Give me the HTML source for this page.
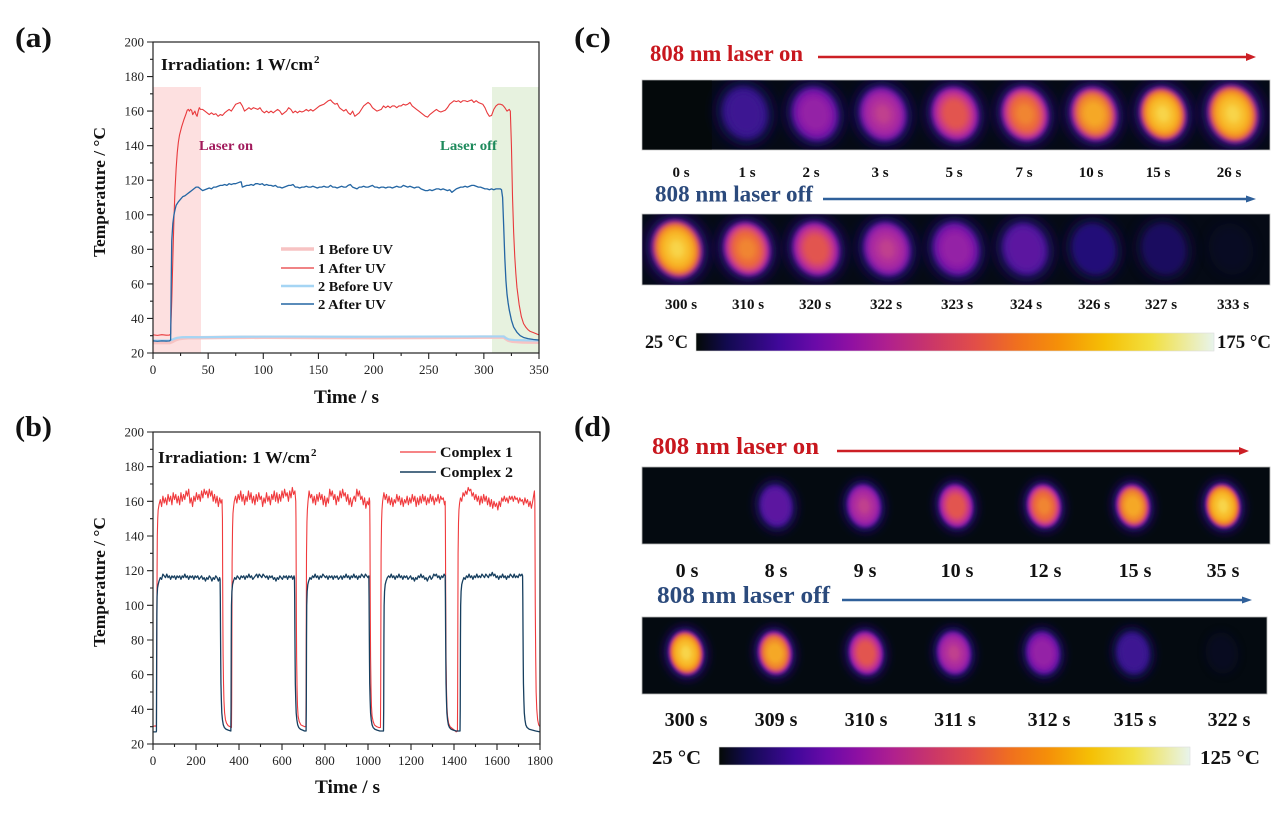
<!DOCTYPE html>
<html><head><meta charset="utf-8"><style>
html,body{margin:0;padding:0;background:#fff;}
svg{display:block;font-family:"Liberation Serif","Times New Roman",serif;}
</style></head><body>
<svg width="1285" height="832" viewBox="0 0 1285 832" xmlns="http://www.w3.org/2000/svg">
<defs>
<filter id="fh" x="-60%" y="-60%" width="220%" height="220%"><feGaussianBlur stdDeviation="6"/></filter>
<filter id="fb" x="-50%" y="-50%" width="200%" height="200%"><feGaussianBlur stdDeviation="2.6"/></filter>
<linearGradient id="cb" x1="0" y1="0" x2="1" y2="0">
<stop offset="0" stop-color="#040a06"/><stop offset="0.06" stop-color="#120a50"/><stop offset="0.16" stop-color="#40089a"/><stop offset="0.23" stop-color="#6a0aa8"/><stop offset="0.30" stop-color="#9010a2"/><stop offset="0.37" stop-color="#b0208e"/><stop offset="0.46" stop-color="#cc3866"/><stop offset="0.54" stop-color="#e24e48"/><stop offset="0.62" stop-color="#f0701e"/><stop offset="0.70" stop-color="#f59008"/><stop offset="0.79" stop-color="#f5c005"/><stop offset="0.88" stop-color="#f2e040"/><stop offset="1" stop-color="#e8f4ec"/>
</linearGradient>
<clipPath id="cs1"><rect x="642" y="80" width="628" height="70"/></clipPath>
<clipPath id="cs2"><rect x="642" y="214" width="628" height="71"/></clipPath>
<clipPath id="ds1"><rect x="642" y="467" width="628" height="77"/></clipPath>
<clipPath id="ds2"><rect x="642" y="617" width="625" height="77"/></clipPath>
<g id="kZ"><ellipse rx="22" ry="26" fill="#0c0a34" opacity="0.45" filter="url(#fh)"/></g>
<g id="kA"><ellipse rx="28" ry="32" fill="#140a4c" filter="url(#fh)"/><ellipse rx="21" ry="25" fill="#241078" filter="url(#fb)"/></g>
<g id="kB"><ellipse rx="29" ry="33" fill="#160b52" filter="url(#fh)"/><ellipse rx="22" ry="26" fill="#34138a" filter="url(#fb)"/><ellipse rx="16" ry="20" fill="#3e1792" filter="url(#fb)"/></g>
<g id="kC"><ellipse rx="29" ry="33" fill="#1a0c5c" filter="url(#fh)"/><ellipse rx="22" ry="26" fill="#4a1298" filter="url(#fb)"/><ellipse rx="17" ry="21" fill="#5c14a0" filter="url(#fb)"/></g>
<g id="kD"><ellipse rx="29" ry="33" fill="#1c0c60" filter="url(#fh)"/><ellipse rx="23" ry="27" fill="#5a129e" filter="url(#fb)"/><ellipse rx="19" ry="23" fill="#8418a8" filter="url(#fb)"/><ellipse rx="14" ry="17" fill="#9420a6" filter="url(#fb)"/></g>
<g id="kE"><ellipse rx="29" ry="33" fill="#1e0d66" filter="url(#fh)"/><ellipse rx="23" ry="27" fill="#6414a2" filter="url(#fb)"/><ellipse rx="20" ry="24" fill="#9c22a6" filter="url(#fb)"/><ellipse rx="15" ry="18" fill="#b02f9c" filter="url(#fb)"/><ellipse rx="8" ry="10" fill="#c0408e" filter="url(#fb)"/></g>
<g id="kF"><ellipse rx="29" ry="33" fill="#200e6a" filter="url(#fh)"/><ellipse rx="23" ry="27" fill="#6a14a2" filter="url(#fb)"/><ellipse rx="21" ry="25" fill="#a424a4" filter="url(#fb)"/><ellipse rx="18" ry="22" fill="#cc3a84" filter="url(#fb)"/><ellipse rx="13" ry="16" fill="#e25450" filter="url(#fb)"/></g>
<g id="kG"><ellipse rx="29" ry="33" fill="#200e6a" filter="url(#fh)"/><ellipse rx="23" ry="27" fill="#6a14a2" filter="url(#fb)"/><ellipse rx="21" ry="25" fill="#ae28a0" filter="url(#fb)"/><ellipse rx="19" ry="23" fill="#d84878" filter="url(#fb)"/><ellipse rx="15" ry="19" fill="#ec6a3a" filter="url(#fb)"/><ellipse rx="9" ry="11" fill="#f08530" filter="url(#fb)"/></g>
<g id="kH"><ellipse rx="29" ry="33" fill="#200e6a" filter="url(#fh)"/><ellipse rx="23" ry="27" fill="#6a14a2" filter="url(#fb)"/><ellipse rx="21" ry="25" fill="#b02a9c" filter="url(#fb)"/><ellipse rx="19" ry="23" fill="#e05a5a" filter="url(#fb)"/><ellipse rx="16" ry="20" fill="#f08a2a" filter="url(#fb)"/><ellipse rx="11" ry="13" fill="#f5a828" filter="url(#fb)"/></g>
<g id="kI"><ellipse rx="29" ry="33" fill="#200e6a" filter="url(#fh)"/><ellipse rx="23" ry="27" fill="#6a14a2" filter="url(#fb)"/><ellipse rx="21" ry="25" fill="#b42c98" filter="url(#fb)"/><ellipse rx="20" ry="24" fill="#e6604e" filter="url(#fb)"/><ellipse rx="18" ry="22" fill="#f59a1e" filter="url(#fb)"/><ellipse rx="14" ry="17" fill="#f8bc2c" filter="url(#fb)"/><ellipse rx="7" ry="9" fill="#f8d448" filter="url(#fb)"/></g>
</defs>

<!-- Panel labels -->
<g font-weight="bold" font-size="28" fill="#111">
<text x="15" y="47" textLength="37" lengthAdjust="spacingAndGlyphs">(a)</text>
<text x="15" y="436" textLength="37" lengthAdjust="spacingAndGlyphs">(b)</text>
<text x="574" y="47" textLength="37" lengthAdjust="spacingAndGlyphs">(c)</text>
<text x="574" y="436" textLength="37" lengthAdjust="spacingAndGlyphs">(d)</text>
</g>

<!-- ================= Panel (a) ================= -->
<rect x="153" y="87" width="48" height="266" fill="#fde0e0"/>
<rect x="492" y="87" width="47" height="266" fill="#e7f2df"/>
<g transform="translate(153,353) scale(1.10286,-1.72778) translate(0,-20)" fill="none" stroke-linejoin="round">
<polyline vector-effect="non-scaling-stroke" stroke="#f7c3c3" stroke-width="3.5" points="0,26 15,26 17,26.5 20,27.5 23,28.2 27,28.6 32,28.8 40,28.8 60,29 100,29.1 150,29 200,28.9 250,29 300,29.2 318,29.2 320,28.3 322,27.4 326,26.8 335,26.4 350,26.2"/>
<polyline vector-effect="non-scaling-stroke" stroke="#a5d5f4" stroke-width="2.2" points="0,27.2 15,27.2 17,27.6 19,28.2 22,28.8 26,29.1 32,29.2 45,29.1 80,29.4 120,29.5 180,29.4 240,29.5 300,29.6 318,29.6 320,28.6 323,27.8 328,27.5 340,27.3 350,27.2"/>
<polyline vector-effect="non-scaling-stroke" stroke="#e8393c" stroke-width="1.1" points="0,30.5 4,30.2 8,30.6 12,30.3 15,30.4 16,31 17,50 18,75 19,98 20,115 21,127 22,136 23,142 24,146 26,151 28,155 30,158.5 31,160.5 32,161 33,160 34,161 35,160.5 36,158 37,159 38,160 39,158 40,157 41,160 42,162 43,161 45,161 47,160 49,159 51,158 53,159 55,158 57,158.5 59,157 61,158 63,157.5 65,159 67,160 69,161 71,160 73,162 75,164 77,164.5 79,165 81,163 83,160 85,161 87,162 89,161 91,162 93,161.5 95,161 97,162 99,160 101,159 103,160 105,159 107,160 109,159 111,160 113,161 115,160 117,158 119,159 121,160 123,162 125,161 127,159 129,160 131,159 133,160 135,159.5 137,160 139,161 141,160 143,161 145,160 147,161 149,162 151,163 153,163.5 155,164 157,165 159,166 161,166.5 163,165 165,164 167,164.5 169,162 171,161 173,160 175,161 177,159 179,158 181,160 183,157 185,158 187,159 189,161 191,163 193,164 195,165 197,164 199,162 201,161 203,160 205,160.5 207,161 209,163 211,162 213,163 215,162 217,163 219,163 221,162 223,163 225,163 227,164 229,163.5 231,164 233,165 235,163 237,162 239,161 241,160 243,159 245,158 247,157 249,156.5 251,158 253,159 255,160 257,161 259,160 261,159.5 263,160 265,160.5 267,162 269,164 271,165 273,166 275,165.5 277,166 279,165 281,166 283,166 285,165.5 287,166 289,166.5 291,165 293,166 295,165 297,164.5 299,164 301,162 303,159 305,157 307,157.5 309,161 311,163 313,164 315,164 317,163.5 319,162 321,160 323,161 324,160 325,140 326,110 327,90 328,76 329,66 330,58 332,48 334,41 336,37 338,35 340,33.5 342,32.5 345,31.8 348,31 350,30.5"/>
<polyline vector-effect="non-scaling-stroke" stroke="#2466a3" stroke-width="1.3" points="0,27 4,26.8 8,27 12,26.9 15,27 16,27.5 16.5,60 17,85 18,95 19,100 20,103 21,105.5 23,107.5 25,109 27,110.5 29,111 31,112 33,113 35,114 37,115 39,116 41,116 43,115 45,114 47,114.5 49,115 51,115.5 53,115 55,116 57,116 59,116.5 61,117 63,117 65,117.5 67,117 69,118 71,117.5 73,118 75,118 77,118.5 79,119 80,119 81,116 83,116.5 85,117 87,117 89,117.5 91,117 93,118 95,118 97,117.5 99,118 101,117 103,117.5 105,117 107,117 109,116.5 111,117 113,116 115,116 117,115.5 119,116 121,116.5 123,117 125,117 127,117.5 129,116 131,116 133,115.5 135,116 137,116 139,116.5 141,116 143,116 145,116.5 147,116 149,115.5 151,116 153,116 155,116.5 157,116 159,116 161,117 163,116 165,116 167,115.5 169,116 171,116.5 173,116 175,116 177,117 179,117.5 181,116 183,115.5 185,115 187,116 189,116 191,116.5 193,116 195,116 197,116.5 199,117 201,116 203,116 205,115.5 207,116 209,116 211,115.5 213,116 215,116 217,115.5 219,116 221,116.5 223,116 225,116 227,117 229,116.5 231,116 233,116.5 235,116 237,115.5 239,116 241,116 243,115 245,114.5 247,114 249,114 251,114.5 253,114 255,114.5 257,115 259,115 261,114.5 263,115 265,114.5 267,114 269,114.5 271,113 273,114 275,115 277,115.5 279,116 281,116 283,116.5 285,116 287,116.5 289,117 291,117 293,116.5 295,116 297,116 299,115.5 301,115 303,115 305,114.5 307,115 309,114.5 311,115 313,115 315,115 316,114.5 317,110 318,93 319,75 320,62 321,54 322,49 323,45 325,39 327,35 330,32 333,30 336,29 340,28.3 345,27.8 350,27.5"/>
</g>
<rect x="153" y="42" width="386" height="311" fill="none" stroke="#222" stroke-width="1.2"/>
<path stroke="#222" stroke-width="1.1" fill="none" d="M147,353H153M147,318.44H153M147,283.89H153M147,249.33H153M147,214.78H153M147,180.22H153M147,145.67H153M147,111.11H153M147,76.56H153M147,42H153M150,335.72H153M150,301.17H153M150,266.61H153M150,232.06H153M150,197.5H153M150,162.94H153M150,128.39H153M150,93.83H153M150,59.28H153M153,353V359M208.14,353V359M263.29,353V359M318.43,353V359M373.57,353V359M428.71,353V359M483.86,353V359M539,353V359M180.57,353V356M235.71,353V356M290.86,353V356M346,353V356M401.14,353V356M456.29,353V356M511.43,353V356"/>
<g font-size="13" fill="#222" text-anchor="end">
<text x="144" y="357.5">20</text><text x="144" y="322.9">40</text><text x="144" y="288.4">60</text><text x="144" y="253.8">80</text><text x="144" y="219.3">100</text><text x="144" y="184.7">120</text><text x="144" y="150.2">140</text><text x="144" y="115.6">160</text><text x="144" y="81.1">180</text><text x="144" y="46.5">200</text>
</g>
<g font-size="13" fill="#222" text-anchor="middle">
<text x="153" y="374">0</text><text x="208.1" y="374">50</text><text x="263.3" y="374">100</text><text x="318.4" y="374">150</text><text x="373.6" y="374">200</text><text x="428.7" y="374">250</text><text x="483.9" y="374">300</text><text x="539" y="374">350</text>
</g>
<g font-weight="bold" fill="#111">
<text x="161" y="70" font-size="17" textLength="152" lengthAdjust="spacingAndGlyphs">Irradiation: 1 W/cm</text>
<text x="314" y="63" font-size="11">2</text>
<text x="199" y="150" font-size="14" fill="#a11a5c" textLength="54" lengthAdjust="spacingAndGlyphs">Laser on</text>
<text x="440" y="150" font-size="14" fill="#1e8a5c" textLength="57" lengthAdjust="spacingAndGlyphs">Laser off</text>
<text transform="translate(105,192) rotate(-90)" text-anchor="middle" font-size="17" textLength="130" lengthAdjust="spacingAndGlyphs">Temperature / °C</text>
<text x="314" y="403" font-size="19" textLength="65" lengthAdjust="spacingAndGlyphs">Time / s</text>
</g>
<g stroke-linecap="butt">
<line x1="281" y1="249" x2="314" y2="249" stroke="#f7c3c3" stroke-width="3.5"/>
<line x1="281" y1="268" x2="314" y2="268" stroke="#e8393c" stroke-width="1.2"/>
<line x1="281" y1="286" x2="314" y2="286" stroke="#a5d5f4" stroke-width="2.4"/>
<line x1="281" y1="304" x2="314" y2="304" stroke="#2466a3" stroke-width="1.5"/>
</g>
<g font-weight="bold" font-size="14" fill="#111">
<text x="318" y="254" textLength="75" lengthAdjust="spacingAndGlyphs">1 Before UV</text>
<text x="318" y="273" textLength="68" lengthAdjust="spacingAndGlyphs">1 After UV</text>
<text x="318" y="291" textLength="75" lengthAdjust="spacingAndGlyphs">2 Before UV</text>
<text x="318" y="309" textLength="68" lengthAdjust="spacingAndGlyphs">2 After UV</text>
</g>

<!-- ================= Panel (b) ================= -->
<g transform="translate(153,744) scale(0.215,-1.73333) translate(0,-20)" fill="none" stroke-linejoin="round">
<polyline vector-effect="non-scaling-stroke" stroke="#f03a3d" stroke-width="1.1" points="0,30 10,30.5 16,30 17,60 18,90 19,120 20,140 22,150 24,155 28,158 34,161 40,157 46,163 52,159 58,162 64,158 70,164 76,160 82,163 88,158 94,165 100,161 106,164 112,159 118,163 124,158 130,165 136,160 142,164 148,161 154,166 160,163 166,167 172,159 178,162 184,157 190,163 196,160 202,165 208,161 214,164 220,160 226,166 232,162 238,167 244,164 250,166 256,162 262,167 268,163 274,166 280,160 286,164 292,159 298,163 304,157 310,162 316,159 321,161 323,150 324,115 325,90 326,72 328,55 330,45 333,38 337,34 342,32 350,30.5 358,30 365,29.5 366,45 367,90 368,125 370,145 372,153 375,157 378,160 384,163 390,159 396,164 402,161 408,166 414,160 420,164 426,158 432,163 438,160 444,166 450,161 456,165 462,159 468,163 474,158 480,164 486,160 492,165 498,161 504,163 510,157 516,162 522,159 528,165 534,160 540,163 546,158 552,164 558,161 564,166 570,160 576,165 582,159 588,164 594,160 600,166 606,162 612,167 618,163 624,165 630,160 636,166 642,162 648,168 654,164 660,166 664,160 665,150 666,120 667,90 668,70 670,52 672,42 675,36 680,33 688,31 696,30.5 705,30 711,30 712,50 713,95 714,130 716,148 718,155 721,160 726,166 732,162 738,164 744,159 750,163 756,158 762,164 768,160 774,165 780,161 786,164 792,158 798,163 804,157 810,162 816,159 822,167 828,163 834,166 840,161 846,164 852,158 858,163 864,160 870,166 876,162 882,167 888,163 894,165 900,160 906,164 912,158 918,162 924,157 930,161 936,163 942,160 948,167 954,163 960,166 966,161 972,163 978,158 984,162 990,156 996,160 1002,158 1006,162 1008,160 1009,145 1010,115 1011,90 1012,70 1014,52 1016,42 1019,36 1024,33 1030,31 1040,30 1050,29.5 1058,29.5 1059,50 1060,95 1061,130 1063,148 1065,155 1068,160 1074,165 1080,161 1086,164 1092,159 1098,163 1104,158 1110,162 1116,157 1122,161 1128,159 1134,164 1140,160 1146,163 1152,158 1158,162 1164,157 1170,161 1176,159 1182,163 1188,158 1194,162 1200,159 1206,164 1212,160 1218,163 1224,157 1230,162 1236,158 1242,163 1248,159 1254,164 1260,160 1266,163 1272,158 1278,162 1284,159 1290,164 1296,160 1302,163 1308,158 1314,162 1320,160 1326,164 1332,159 1338,163 1344,161 1350,162 1356,158 1359,160 1360,145 1361,115 1362,90 1363,70 1365,52 1367,42 1370,36 1375,32 1382,30 1392,29 1402,28 1410,27 1416,27.5 1417,50 1418,95 1419,130 1421,148 1423,155 1426,159 1430,162 1436,160 1442,165 1448,163 1454,166 1460,164 1466,168 1472,166 1478,167 1484,163 1490,165 1496,161 1502,164 1508,160 1514,163 1520,158 1526,163 1532,159 1538,164 1544,160 1550,163 1556,158 1562,162 1568,157 1574,161 1580,156 1586,160 1592,157 1598,159 1604,155 1610,160 1616,157 1622,162 1628,160 1634,163 1640,160 1646,162 1652,159 1658,163 1664,161 1670,163 1676,160 1682,163 1688,161 1694,162 1700,159 1706,162 1712,160 1718,161 1724,158 1730,162 1736,159 1742,161 1748,157 1754,160 1760,156 1766,160 1770,163 1774,166 1776,160 1777,130 1778,100 1780,70 1782,50 1785,40 1789,34 1794,31 1800,30"/>
<polyline vector-effect="non-scaling-stroke" stroke="#173f5f" stroke-width="1.3" points="0,27 15,27 16,27.5 17,70 18,95 19,105 21,110 24,112 28,114 34,116 40,115 46,118 52,117 58,116 64,118 70,116 76,117 82,115 88,117 94,116 100,117 106,115 112,117 118,116 124,117 130,115 136,117 142,116 148,118 154,116 160,117 166,115 172,117 178,116 184,117 190,115 196,117 202,116 208,117 214,115 220,116 226,117 232,115 238,116 244,114 250,116 256,115 262,117 268,116 274,114 280,116 286,115 292,117 298,116 304,114 310,116 312,115 313,105 314,85 315,68 316,55 318,45 320,38 323,34 327,31 332,29.5 340,28.5 350,28 362,27.5 363,40 364,80 365,100 367,108 370,112 374,114 380,116 386,115 392,117 398,116 404,115 410,117 416,116 422,117 428,115 434,117 440,116 446,118 452,116 458,117 464,115 470,116 476,117 482,118 488,116 494,118 500,117 506,116 512,118 518,117 524,116 530,117 536,115 542,117 548,116 554,117 560,115 566,116 572,114 578,116 584,115 590,117 596,116 602,115 608,117 614,116 620,117 626,115 632,117 638,116 644,117 650,115 656,117 658,116 659,105 660,85 661,68 662,55 664,45 666,38 669,34 673,31 678,29.5 686,28.5 696,28 705,27.5 712,27.5 713,40 714,80 715,100 717,108 720,112 724,114 730,116 736,115 742,117 748,116 754,118 760,116 766,117 772,115 778,117 784,116 790,118 796,117 802,116 808,117 814,115 820,117 826,116 832,117 838,115 844,117 850,116 856,117 862,115 868,116 874,117 880,115 886,117 892,116 898,118 904,116 910,117 916,115 922,117 928,116 934,118 940,116 946,117 952,115 958,117 964,116 970,118 976,117 982,116 988,118 994,117 1000,116 1004,117 1005,105 1006,85 1007,68 1008,55 1010,45 1012,38 1015,34 1019,31 1024,29.5 1032,28.5 1042,28 1055,27.5 1072,27.5 1073,40 1074,80 1075,100 1077,108 1080,112 1084,114 1090,116 1096,117 1102,116 1108,118 1114,116 1120,117 1126,115 1132,117 1138,116 1144,118 1150,116 1156,117 1162,115 1168,117 1174,116 1180,117 1186,115 1192,116 1198,117 1204,115 1210,116 1216,114 1222,116 1228,115 1234,117 1240,116 1246,118 1252,116 1258,117 1264,115 1270,116 1276,114 1282,116 1288,117 1294,115 1300,116 1306,118 1312,117 1318,118 1324,116 1330,117 1336,115 1342,117 1348,116 1354,118 1359,117 1360,105 1361,85 1362,68 1363,55 1365,45 1367,38 1370,34 1374,31 1379,29.5 1387,28.5 1397,28 1410,27.5 1428,27.5 1429,40 1430,80 1431,100 1433,108 1436,112 1440,114 1446,116 1452,115 1458,117 1464,116 1470,118 1476,116 1482,117 1488,115 1494,117 1500,116 1506,118 1512,116 1518,117 1524,116 1530,118 1536,117 1542,116 1548,118 1554,117 1560,116 1566,118 1572,117 1578,119 1584,117 1590,118 1596,116 1602,117 1608,115 1614,117 1620,116 1626,118 1632,116 1638,117 1644,115 1650,117 1656,116 1662,118 1668,117 1674,116 1680,118 1686,116 1692,117 1698,116 1704,118 1710,117 1716,118 1719,117 1720,105 1721,85 1722,68 1723,55 1725,45 1727,38 1730,34 1734,31 1740,29.5 1750,28.5 1765,28 1780,27.5 1800,27"/>
</g>
<rect x="153" y="432" width="387" height="312" fill="none" stroke="#222" stroke-width="1.2"/>
<path stroke="#222" stroke-width="1.1" fill="none" d="M147,744H153M147,709.33H153M147,674.67H153M147,640H153M147,605.33H153M147,570.67H153M147,536H153M147,501.33H153M147,466.67H153M147,432H153M150,726.67H153M150,692H153M150,657.33H153M150,622.67H153M150,588H153M150,553.33H153M150,518.67H153M150,484H153M150,449.33H153M153,744V750M196,744V750M239,744V750M282,744V750M325,744V750M368,744V750M411,744V750M454,744V750M497,744V750M540,744V750M174.5,744V747M217.5,744V747M260.5,744V747M303.5,744V747M346.5,744V747M389.5,744V747M432.5,744V747M475.5,744V747M518.5,744V747"/>
<g font-size="13" fill="#222" text-anchor="end">
<text x="144" y="748.5">20</text><text x="144" y="713.8">40</text><text x="144" y="679.2">60</text><text x="144" y="644.5">80</text><text x="144" y="609.8">100</text><text x="144" y="575.2">120</text><text x="144" y="540.5">140</text><text x="144" y="505.8">160</text><text x="144" y="471.2">180</text><text x="144" y="436.5">200</text>
</g>
<g font-size="13" fill="#222" text-anchor="middle">
<text x="153" y="765">0</text><text x="196" y="765">200</text><text x="239" y="765">400</text><text x="282" y="765">600</text><text x="325" y="765">800</text><text x="368" y="765">1000</text><text x="411" y="765">1200</text><text x="454" y="765">1400</text><text x="497" y="765">1600</text><text x="540" y="765">1800</text>
</g>
<g font-weight="bold" fill="#111">
<text x="158" y="463" font-size="17" textLength="152" lengthAdjust="spacingAndGlyphs">Irradiation: 1 W/cm</text>
<text x="311" y="456" font-size="11">2</text>
<text transform="translate(105,582) rotate(-90)" text-anchor="middle" font-size="17" textLength="130" lengthAdjust="spacingAndGlyphs">Temperature / °C</text>
<text x="315" y="793" font-size="19" textLength="65" lengthAdjust="spacingAndGlyphs">Time / s</text>
<text x="440" y="457" font-size="15" textLength="73" lengthAdjust="spacingAndGlyphs">Complex 1</text>
<text x="440" y="477" font-size="15" textLength="73" lengthAdjust="spacingAndGlyphs">Complex 2</text>
</g>
<line x1="400" y1="452" x2="436" y2="452" stroke="#f03a3d" stroke-width="1.3"/>
<line x1="400" y1="472" x2="436" y2="472" stroke="#173f5f" stroke-width="1.5"/>

<!-- ================= Panel (c) ================= -->
<text x="650" y="61" font-size="23" font-weight="bold" fill="#c8171e" textLength="153" lengthAdjust="spacingAndGlyphs">808 nm laser on</text>
<line x1="818" y1="57" x2="1249" y2="57" stroke="#cc1f25" stroke-width="2.4"/>
<polygon points="1246,53 1256,57 1246,61" fill="#cc1f25"/>
<rect x="642" y="80" width="628" height="70" fill="#050a15" stroke="#c8c8c8" stroke-width="0.8"/>
<rect x="642.4" y="80.4" width="69.4" height="69.2" fill="#04090b"/>
<g clip-path="url(#cs1)">
<use href="#kB" transform="translate(745,113) rotate(-15)"/>
<use href="#kD" transform="translate(815,114) rotate(-15)"/>
<use href="#kE" transform="translate(883,114) rotate(-15)"/>
<use href="#kF" transform="translate(955,114) rotate(-15)"/>
<use href="#kG" transform="translate(1025,114) rotate(-15)"/>
<use href="#kH" transform="translate(1094,114) rotate(-15)"/>
<use href="#kI" transform="translate(1163,114) rotate(-15)"/>
<use href="#kI" transform="translate(1233,114) rotate(-15) scale(1.08)"/>
</g>
<g font-size="15" font-weight="bold" fill="#111" text-anchor="middle">
<text x="681" y="177">0 s</text><text x="747" y="177">1 s</text><text x="811" y="177">2 s</text><text x="880" y="177">3 s</text><text x="954" y="177">5 s</text><text x="1024" y="177">7 s</text><text x="1091" y="177">10 s</text><text x="1158" y="177">15 s</text><text x="1229" y="177">26 s</text>
</g>
<text x="655" y="201.5" font-size="23" font-weight="bold" fill="#2b4a7c" textLength="158" lengthAdjust="spacingAndGlyphs">808 nm laser off</text>
<line x1="823" y1="199" x2="1249" y2="199" stroke="#2f609a" stroke-width="2.4"/>
<polygon points="1246,195.5 1256,199 1246,202.5" fill="#2f609a"/>
<rect x="642" y="214" width="628" height="71" fill="#050a15" stroke="#c8c8c8" stroke-width="0.8"/>
<g clip-path="url(#cs2)">
<use href="#kI" transform="translate(677,249) rotate(-15) scale(1.08)"/>
<use href="#kG" transform="translate(747,249) rotate(-15)"/>
<use href="#kF" transform="translate(816,249) rotate(-15)"/>
<use href="#kE" transform="translate(887,249) rotate(-15)"/>
<use href="#kD" transform="translate(956,249) rotate(-15)"/>
<use href="#kC" transform="translate(1025,249) rotate(-15)"/>
<use href="#kA" transform="translate(1094,249) rotate(-15)"/>
<use href="#kA" opacity="0.75" transform="translate(1164,249) rotate(-15)"/>
<use href="#kZ" transform="translate(1231,249) rotate(-15)"/>
</g>
<g font-size="15" font-weight="bold" fill="#111" text-anchor="middle">
<text x="681" y="309">300 s</text><text x="748" y="309">310 s</text><text x="815" y="309">320 s</text><text x="886" y="309">322 s</text><text x="957" y="309">323 s</text><text x="1026" y="309">324 s</text><text x="1094" y="309">326 s</text><text x="1161" y="309">327 s</text><text x="1233" y="309">333 s</text>
</g>
<rect x="696" y="333" width="518" height="18" fill="url(#cb)" stroke="#ddd" stroke-width="0.6"/>
<g font-size="19" font-weight="bold" fill="#111">
<text x="645" y="348" textLength="43" lengthAdjust="spacingAndGlyphs">25 °C</text>
<text x="1217" y="348" textLength="54" lengthAdjust="spacingAndGlyphs">175 °C</text>
</g>

<!-- ================= Panel (d) ================= -->
<text x="652" y="454" font-size="24" font-weight="bold" fill="#c8171e" textLength="167" lengthAdjust="spacingAndGlyphs">808 nm laser on</text>
<line x1="837" y1="451" x2="1241" y2="451" stroke="#cc1f25" stroke-width="2.4"/>
<polygon points="1239,447 1249,451 1239,455" fill="#cc1f25"/>
<rect x="642" y="467" width="628" height="77" fill="#040a10" stroke="#b8b8b8" stroke-width="0.8"/>
<g clip-path="url(#ds1)">
<use href="#kC" transform="translate(776,506) rotate(-8) scale(0.74,0.8)"/>
<use href="#kE" transform="translate(864,506) rotate(-8) scale(0.74,0.8)"/>
<use href="#kF" transform="translate(956,506) rotate(-8) scale(0.74,0.8)"/>
<use href="#kG" transform="translate(1044,506) rotate(-8) scale(0.74,0.8)"/>
<use href="#kH" transform="translate(1133,506) rotate(-8) scale(0.74,0.8)"/>
<use href="#kI" transform="translate(1223,506) rotate(-8) scale(0.76,0.82)"/>
</g>
<g font-size="20" font-weight="bold" fill="#111" text-anchor="middle">
<text x="687" y="577">0 s</text><text x="776" y="577">8 s</text><text x="865" y="577">9 s</text><text x="957" y="577">10 s</text><text x="1045" y="577">12 s</text><text x="1135" y="577">15 s</text><text x="1223" y="577">35 s</text>
</g>
<text x="657" y="603" font-size="24" font-weight="bold" fill="#2b4a7c" textLength="173" lengthAdjust="spacingAndGlyphs">808 nm laser off</text>
<line x1="842" y1="600" x2="1244" y2="600" stroke="#2f609a" stroke-width="2.4"/>
<polygon points="1242,596.5 1252,600 1242,603.5" fill="#2f609a"/>
<rect x="642" y="617" width="625" height="77" fill="#040a10" stroke="#b8b8b8" stroke-width="0.8"/>
<g clip-path="url(#ds2)">
<use href="#kI" transform="translate(686,653) rotate(-8) scale(0.76,0.82)"/>
<use href="#kH" transform="translate(775,653) rotate(-8) scale(0.74,0.8)"/>
<use href="#kF" transform="translate(866,653) rotate(-8) scale(0.74,0.8)"/>
<use href="#kE" transform="translate(954,653) rotate(-8) scale(0.74,0.8)"/>
<use href="#kD" transform="translate(1043,653) rotate(-8) scale(0.74,0.8)"/>
<use href="#kB" transform="translate(1133,653) rotate(-8) scale(0.74,0.8)"/>
<use href="#kZ" transform="translate(1222,653) rotate(-8) scale(0.74,0.8)"/>
</g>
<g font-size="20" font-weight="bold" fill="#111" text-anchor="middle">
<text x="686" y="726">300 s</text><text x="776" y="726">309 s</text><text x="866" y="726">310 s</text><text x="955" y="726">311 s</text><text x="1049" y="726">312 s</text><text x="1135" y="726">315 s</text><text x="1229" y="726">322 s</text>
</g>
<rect x="719" y="747" width="471" height="18" fill="url(#cb)" stroke="#ddd" stroke-width="0.6"/>
<g font-size="20" font-weight="bold" fill="#111">
<text x="652" y="764" textLength="49" lengthAdjust="spacingAndGlyphs">25 °C</text>
<text x="1200" y="764" textLength="60" lengthAdjust="spacingAndGlyphs">125 °C</text>
</g>
</svg>
</body></html>
